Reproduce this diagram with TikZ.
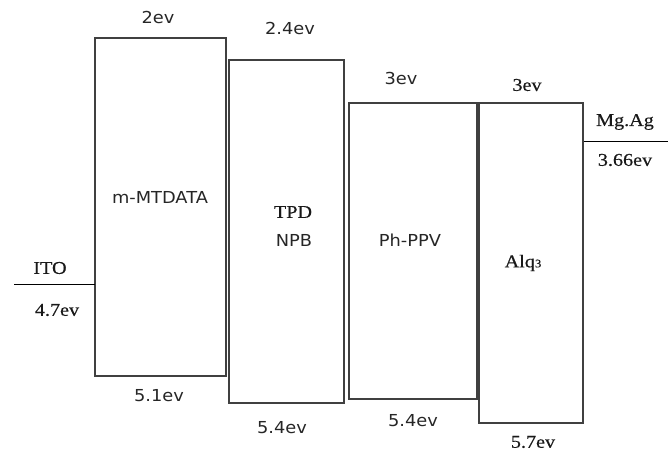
\documentclass[tikz,border=0pt]{standalone}
\usepackage{fontspec}
\setmainfont{Liberation Serif}[FakeStretch=1.12,FakeBold=0.4]
\newfontfamily\lblsans{DejaVu Sans}[FakeStretch=1.08]
\begin{document}
\begin{tikzpicture}[x=1pt,y=-1pt,
  level/.style={draw=black!75,line width=1.2pt},
  edge/.style={draw=black,line width=0.9pt},
  sanslbl/.style={font=\lblsans\fontsize{16.5}{19}\selectfont,text=black!85,inner sep=0pt},
  seriflbl/.style={font=\fontsize{18}{21}\selectfont,text=black!90,inner sep=0pt}]
\useasboundingbox (0,0) rectangle (668,454);
% boxes
\draw[level] (95,38) rectangle (226,376);
\draw[level] (229,60) rectangle (344,403);
\draw[level] (349,103) rectangle (477,399);
\draw[level] (479,103) rectangle (583,423);
\coordinate (itoL) at (14,284);
\coordinate (itoR) at (95,284);
\coordinate (mgL) at (584,141);
\coordinate (mgR) at (668,141);
\draw[edge] (itoL) -- (itoR);
\draw[edge] (mgL) -- (mgR);
% labels
\node[sanslbl] (t1) at (158,17) {2ev};
\node[sanslbl] (t2) at (290,28) {2.4ev};
\node[sanslbl] (t3) at (401,78) {3ev};
\node[seriflbl] (t4) at (527,85) {3ev};
\node[seriflbl] (mg) at (625,122) {Mg.Ag};
\node[seriflbl] (mgv) at (625,160) {3.66ev};
\node[seriflbl] (ito) at (50,268) {ITO};
\node[seriflbl] (itov) at (57,310) {4.7ev};
\node[sanslbl] (n1) at (160,197) {m-MTDATA};
\node[seriflbl] (n2a) at (293,212) {TPD};
\node[sanslbl] (n2b) at (294,240) {NPB};
\node[sanslbl] (n3) at (410,240) {Ph-PPV};
\node[seriflbl] (n4) at (523,263) {Alq{\fontsize{11.5}{12}\selectfont 3}};
\node[sanslbl] (b1) at (159,396) {5.1ev};
\node[sanslbl] (b2) at (282,428) {5.4ev};
\node[sanslbl] (b3) at (413,421) {5.4ev};
\node[seriflbl] (b4) at (533,442) {5.7ev};
\end{tikzpicture}
\end{document}
